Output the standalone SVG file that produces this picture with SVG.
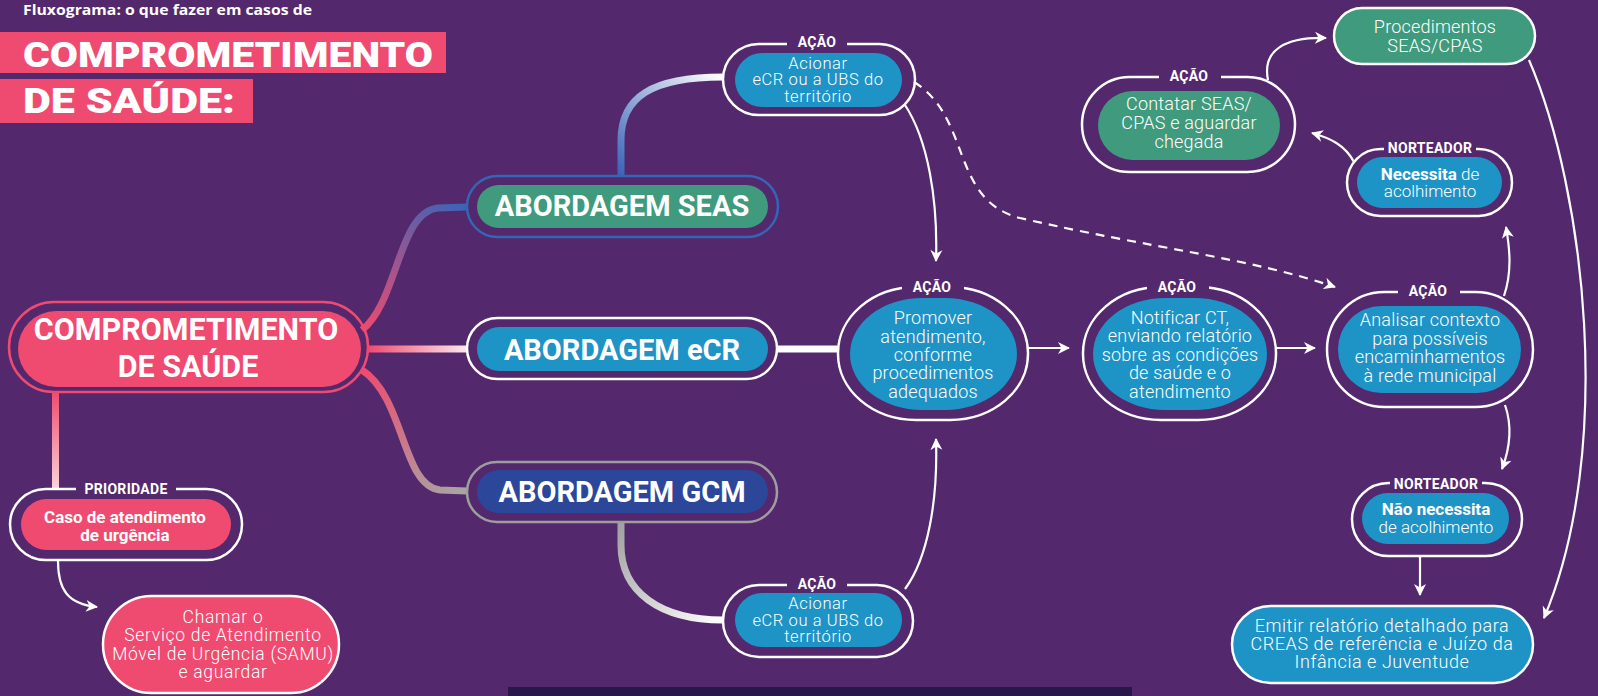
<svg xmlns="http://www.w3.org/2000/svg" width="1598" height="696" viewBox="0 0 1598 696">
<defs>
<style>
.ol{fill:none;stroke:#fff;stroke-width:2.5}
.lb{fill:#53286d}
.lbl{font-family:Roboto,"Liberation Sans",sans-serif;font-weight:700;font-size:14px;fill:#fff;text-anchor:middle;letter-spacing:0.3px}
.lt{font-family:Roboto,"Liberation Sans",sans-serif;font-weight:300;font-size:18px;fill:#fff;text-anchor:middle;letter-spacing:0.2px}
.at{font-family:Roboto,"Liberation Sans",sans-serif;font-weight:300;font-size:16.5px;fill:#fff;text-anchor:middle;letter-spacing:0.6px}
.st{font-family:Roboto,"Liberation Sans",sans-serif;font-weight:300;font-size:17px;fill:#fff;text-anchor:middle}
.wt{font-family:Roboto,"Liberation Sans",sans-serif;font-weight:300;font-size:18px;fill:#fff;text-anchor:middle;letter-spacing:0.55px}
.sm{font-family:Roboto,"Liberation Sans",sans-serif;font-weight:300;font-size:17.5px;fill:#fff;text-anchor:middle;letter-spacing:0.7px}
.bt{font-family:Roboto,"Liberation Sans",sans-serif;font-weight:700;font-size:17px;fill:#fff;text-anchor:middle}
.ab{font-family:Roboto,"Liberation Sans",sans-serif;font-weight:700;font-size:29px;fill:#fff;text-anchor:middle}
.cn{fill:none;stroke:#fff;stroke-width:2.2}
.th{fill:none;stroke-width:7}
.blue{fill:#1e93c6}
.green{fill:#3f9a7e}
.pink{fill:#ef4a6f}
</style>
<marker id="ah" markerUnits="userSpaceOnUse" markerWidth="14" markerHeight="14" refX="11" refY="7" orient="auto"><path d="M0,1 L12,7 L0,13 L3.5,7 z" fill="#fff"/></marker>
<linearGradient id="gTop" gradientUnits="userSpaceOnUse" x1="362" y1="330" x2="467" y2="207"><stop offset="0" stop-color="#ef4a6f"/><stop offset="1" stop-color="#3a64b8"/></linearGradient>
<linearGradient id="gMid" gradientUnits="userSpaceOnUse" x1="368" y1="0" x2="467" y2="0"><stop offset="0" stop-color="#ef4a6f"/><stop offset="1" stop-color="#fde8ec"/></linearGradient>
<linearGradient id="gBot" gradientUnits="userSpaceOnUse" x1="362" y1="370" x2="467" y2="492"><stop offset="0" stop-color="#ef4a6f"/><stop offset="1" stop-color="#a6a6a6"/></linearGradient>
<linearGradient id="gUp" gradientUnits="userSpaceOnUse" x1="621" y1="176" x2="723" y2="77"><stop offset="0" stop-color="#3a64b8"/><stop offset="1" stop-color="#ffffff"/></linearGradient>
<linearGradient id="gDn" gradientUnits="userSpaceOnUse" x1="621" y1="522" x2="723" y2="620"><stop offset="0" stop-color="#a0a0a0"/><stop offset="1" stop-color="#ffffff"/></linearGradient>
<linearGradient id="gPr" gradientUnits="userSpaceOnUse" x1="0" y1="392" x2="0" y2="489"><stop offset="0" stop-color="#ef4a6f"/><stop offset="1" stop-color="#fbd3da"/></linearGradient>
</defs>
<rect width="1598" height="696" fill="#53286d"/>
<rect x="508" y="687" width="624" height="9" fill="#2a1749"/>

<g id="title">
<text x="23" y="15" font-family="'Open Sans','Liberation Sans',sans-serif" font-weight="700" font-size="14" fill="#fff" textLength="289" lengthAdjust="spacingAndGlyphs">Fluxograma: o que fazer em casos de</text>
<rect x="0" y="32" width="446" height="41" fill="#ef4a6f"/>
<rect x="0" y="79" width="253" height="44" fill="#ef4a6f"/>
<text x="23" y="67" font-family="Roboto,'Liberation Sans',sans-serif" font-weight="900" font-size="35" fill="#fff" textLength="410" lengthAdjust="spacingAndGlyphs">COMPROMETIMENTO</text>
<text x="23" y="113" font-family="Roboto,'Liberation Sans',sans-serif" font-weight="900" font-size="35" fill="#fff" textLength="212" lengthAdjust="spacingAndGlyphs">DE SAÚDE:</text>
</g>

<g id="connectors">
<path class="th" stroke="url(#gTop)" d="M362 330 C398 302 398 212 438 208 L467 207"/>
<path class="th" stroke="url(#gMid)" d="M368 349 L467 349"/>
<path class="th" stroke="url(#gBot)" d="M362 370 C405 398 402 486 440 490 L467 491"/>
<path class="th" stroke="url(#gUp)" d="M621 176 L621 140 C621 97 652 77 723 77"/>
<path class="th" stroke="url(#gDn)" d="M621 522 L621 545 C621 592 660 620 723 620"/>
<path class="th" stroke="#fff" d="M777 349 L838 349"/>
<path class="th" stroke="url(#gPr)" d="M55.5 392 L55.5 489"/>
<path class="cn" marker-end="url(#ah)" d="M58 561 C58 590 68 604 97 607"/>
<path class="cn" marker-end="url(#ah)" d="M905 105 C928 140 938 200 936 261"/>
<path class="cn" marker-end="url(#ah)" d="M905 589 C928 558 938 500 936 439"/>
<path class="cn" stroke-dasharray="9 7" marker-end="url(#ah)" d="M914 82 C972 118 950 200 1020 218 C1150 248 1250 258 1335 287"/>
<path class="cn" marker-end="url(#ah)" d="M1028 348 L1069 348"/>
<path class="cn" marker-end="url(#ah)" d="M1276 348 L1315 348"/>
<path class="cn" marker-end="url(#ah)" d="M1504 296 C1512 272 1510 250 1506 227"/>
<path class="cn" marker-end="url(#ah)" d="M1505 405 C1512 425 1510 448 1502 469"/>
<path class="cn" marker-end="url(#ah)" d="M1420 556 L1420 595"/>
<path class="cn" marker-end="url(#ah)" d="M1354 162 C1345 145 1330 138 1312 133"/>
<path class="cn" marker-end="url(#ah)" d="M1268 80 C1262 50 1285 37 1326 38"/>
<path class="cn" marker-end="url(#ah)" d="M1529 60 C1585 190 1615 450 1544 618"/>
</g>

<g id="n-main">
<rect x="9" y="302" width="359" height="90" rx="45" fill="none" stroke="#ef4a6f" stroke-width="2.5"/>
<rect x="18" y="311" width="343" height="76" rx="38" class="pink"/>
<text x="186" y="340" font-family="Roboto,'Liberation Sans',sans-serif" font-weight="700" font-size="30.5" fill="#fff" text-anchor="middle">COMPROMETIMENTO</text>
<text x="188" y="377" font-family="Roboto,'Liberation Sans',sans-serif" font-weight="700" font-size="30.5" fill="#fff" text-anchor="middle">DE SAÚDE</text>
</g>

<g id="n-seas">
<rect x="467" y="176" width="311" height="61" rx="30.5" fill="none" stroke="#3565b5" stroke-width="2.5"/>
<rect x="477" y="185" width="291" height="43" rx="21.5" class="green"/>
<text class="ab" x="622" y="216">ABORDAGEM SEAS</text>
</g>

<g id="n-ecr">
<rect x="467" y="318" width="310" height="61" rx="30.5" class="ol"/>
<rect x="477" y="327" width="291" height="44" rx="22" class="blue"/>
<text class="ab" x="622" y="360">ABORDAGEM eCR</text>
</g>

<g id="n-gcm">
<rect x="467" y="462" width="310" height="60" rx="30" fill="none" stroke="#9e9e9e" stroke-width="2.5"/>
<rect x="477" y="470" width="291" height="43" rx="21.5" fill="#2c4699"/>
<text class="ab" x="622" y="502">ABORDAGEM GCM</text>
</g>

<g id="n-acionar-top">
<rect x="723" y="44" width="192" height="71" rx="35.5" class="ol"/>
<rect x="787" y="38" width="60" height="10" class="lb"/>
<text class="lbl" x="817" y="47">AÇÃO</text>
<rect x="735" y="53" width="167" height="54" rx="27" class="blue"/>
<text class="at" x="818" y="68.5">Acionar</text>
<text class="at" x="818" y="85">eCR ou a UBS do</text>
<text class="at" x="818" y="101.5">território</text>
</g>

<g id="n-acionar-bot">
<rect x="723" y="585" width="190" height="72" rx="36" class="ol"/>
<rect x="787" y="579" width="60" height="10" class="lb"/>
<text class="lbl" x="817" y="589">AÇÃO</text>
<rect x="735" y="593" width="167" height="54" rx="27" class="blue"/>
<text class="at" x="818" y="609">Acionar</text>
<text class="at" x="818" y="625.5">eCR ou a UBS do</text>
<text class="at" x="818" y="642">território</text>
</g>

<g id="n-promover">
<rect x="838" y="287" width="190" height="133" rx="78" ry="66" class="ol"/>
<rect x="902" y="281" width="62" height="12" class="lb"/>
<text class="lbl" x="932" y="292">AÇÃO</text>
<rect x="850" y="298" width="167" height="112" rx="72" ry="56" class="blue"/>
<text class="lt" x="933" y="324">Promover</text>
<text class="lt" x="933" y="343">atendimento,</text>
<text class="lt" x="933" y="361">conforme</text>
<text class="lt" x="933" y="379">procedimentos</text>
<text class="lt" x="933" y="398">adequados</text>
</g>

<g id="n-notificar">
<rect x="1083" y="287" width="193" height="133" rx="78" ry="66" class="ol"/>
<rect x="1147" y="281" width="62" height="12" class="lb"/>
<text class="lbl" x="1177" y="292">AÇÃO</text>
<rect x="1093" y="298" width="174" height="112" rx="72" ry="56" class="blue"/>
<text class="lt" x="1180" y="324">Notificar CT,</text>
<text class="lt" x="1180" y="342">enviando relatório</text>
<text class="lt" x="1180" y="361">sobre as condições</text>
<text class="lt" x="1180" y="379">de saúde e o</text>
<text class="lt" x="1180" y="398">atendimento</text>
</g>

<g id="n-analisar">
<rect x="1327" y="292" width="206" height="115" rx="57.5" class="ol"/>
<rect x="1398" y="286" width="62" height="12" class="lb"/>
<text class="lbl" x="1428" y="296">AÇÃO</text>
<rect x="1338" y="306" width="183" height="87" rx="43.5" class="blue"/>
<text class="lt" x="1430" y="326">Analisar contexto</text>
<text class="lt" x="1430" y="345">para possíveis</text>
<text class="lt" x="1430" y="363">encaminhamentos</text>
<text class="lt" x="1430" y="382">à rede municipal</text>
</g>

<g id="n-contatar">
<rect x="1082" y="77" width="213" height="95" rx="47.5" class="ol"/>
<rect x="1159" y="71" width="62" height="12" class="lb"/>
<text class="lbl" x="1189" y="81">AÇÃO</text>
<rect x="1098" y="91" width="182" height="69" rx="34.5" class="green"/>
<text class="lt" x="1189" y="110">Contatar SEAS/</text>
<text class="lt" x="1189" y="129">CPAS e aguardar</text>
<text class="lt" x="1189" y="148">chegada</text>
</g>

<g id="n-procedimentos">
<rect x="1334" y="8" width="201" height="56" rx="28" class="ol green"/>
<text class="lt" x="1435" y="33">Procedimentos</text>
<text class="lt" x="1435" y="52">SEAS/CPAS</text>
</g>

<g id="n-necessita">
<rect x="1347" y="149" width="165" height="67" rx="33.5" class="ol"/>
<rect x="1384" y="143" width="92" height="12" class="lb"/>
<text class="lbl" x="1430" y="153">NORTEADOR</text>
<rect x="1357" y="157" width="145" height="51" rx="25.5" class="blue"/>
<text class="st" x="1430" y="180"><tspan font-weight="700">Necessita</tspan> de</text>
<text class="st" x="1430" y="197">acolhimento</text>
</g>

<g id="n-nao-necessita">
<rect x="1352" y="483" width="170" height="73" rx="36.5" class="ol"/>
<rect x="1390" y="478" width="92" height="12" class="lb"/>
<text class="lbl" x="1436" y="489">NORTEADOR</text>
<rect x="1362" y="493" width="147" height="51" rx="25.5" class="blue"/>
<text class="bt" x="1436" y="515">Não necessita</text>
<text class="st" x="1436" y="533">de acolhimento</text>
</g>

<g id="n-emitir">
<rect x="1232" y="606" width="301" height="77" rx="38.5" class="ol blue"/>
<text class="wt" x="1382" y="632">Emitir relatório detalhado para</text>
<text class="wt" x="1382" y="650">CREAS de referência e Juízo da</text>
<text class="wt" x="1382" y="668">Infância e Juventude</text>
</g>

<g id="n-prioridade">
<rect x="10" y="489" width="232" height="71" rx="35.5" class="ol"/>
<rect x="76" y="483" width="100" height="12" class="lb"/>
<text class="lbl" x="126" y="494">PRIORIDADE</text>
<rect x="21" y="499" width="210" height="51" rx="25.5" class="pink"/>
<text class="bt" x="125" y="523" font-size="18.5">Caso de atendimento</text>
<text class="bt" x="125" y="541" font-size="18.5">de urgência</text>
</g>

<g id="n-samu">
<rect x="103" y="596" width="236" height="97" rx="48.5" class="ol pink"/>
<text class="sm" x="223" y="623">Chamar o</text>
<text class="sm" x="223" y="641.3">Serviço de Atendimento</text>
<text class="sm" x="223" y="659.6">Móvel de Urgência (SAMU)</text>
<text class="sm" x="223" y="678">e aguardar</text>
</g>
</svg>
